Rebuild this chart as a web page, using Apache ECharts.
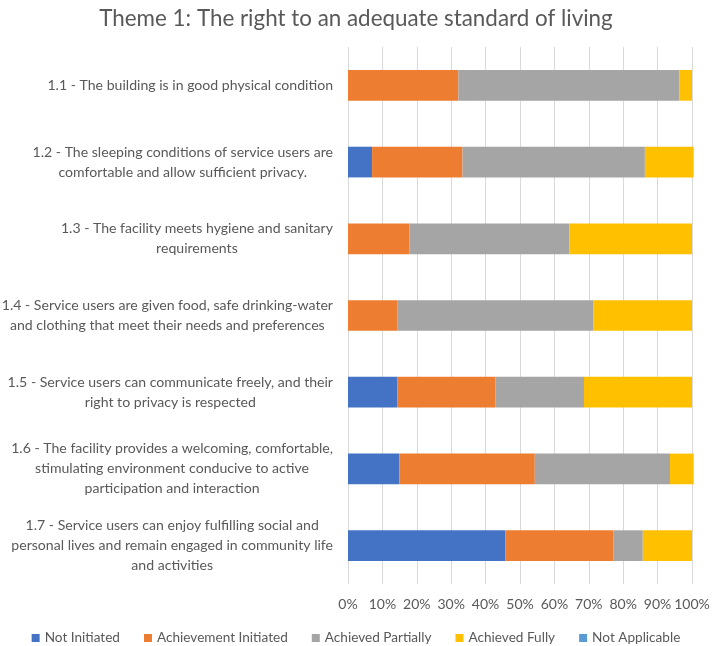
<!DOCTYPE html>
<html>
<head>
<meta charset="utf-8">
<title>Theme 1</title>
<script src="https://cdn.jsdelivr.net/npm/echarts@6/dist/echarts.min.js"></script>
<style>
  html, body { margin: 0; padding: 0; background: #fff; }
  #chart { width: 712px; height: 646px; }
</style>
</head>
<body>
<div id="chart"></div>
<script>
// categories, top to bottom (line breaks as in the source)
var categories = [
    '1.1 - The building is in good physical condition',
    '1.2 - The sleeping conditions of service users are\ncomfortable and allow sufficient privacy.',
    '1.3 - The facility meets hygiene and sanitary\nrequirements',
    '1.4 - Service users are given food, safe drinking-water\nand clothing that meet their needs and preferences',
    '1.5 - Service users can communicate freely, and their\nright to privacy is respected',
    '1.6 - The facility provides a welcoming, comfortable,\nstimulating environment conducive to active\nparticipation and interaction',
    '1.7 - Service users can enjoy fulfilling social and\npersonal lives and remain engaged in community life\nand activities'
];
var seriesNames = ['Not Initiated', 'Achievement Initiated', 'Achieved Partially', 'Achieved Fully', 'Not Applicable'];
var colors = ['#4472C4', '#ED7D31', '#A5A5A5', '#FFC000', '#5B9BD5'];

// percentages (same order as categories)
var notInitiated         = [0,    7.0,  0,    0,    14.3, 14.9, 45.7];
var achievementInitiated = [32.1, 26.3, 17.9, 14.3, 28.6, 39.4, 31.4];
var achievedPartially    = [64.3, 53.0, 46.4, 57.1, 25.7, 39.3, 8.6];
var achievedFully        = [3.6,  14.2, 35.7, 28.6, 31.4, 6.9,  14.3];
var notApplicable        = [0,    0,    0,    0,    0,    0,    0];

var xTicks = ['0%', '10%', '20%', '30%', '40%', '50%', '60%', '70%', '80%', '90%', '100%'];

var values = [notInitiated, achievementInitiated, achievedPartially, achievedFully, notApplicable];
var font = 'Lato, "Open Sans", sans-serif';

var series = [];
for (var i = 0; i < seriesNames.length; i++) {
    series.push({
        name: seriesNames[i],
        type: 'bar',
        stack: 'total',
        barCategoryGap: '60%',
        clip: false,
        itemStyle: { color: colors[i] },
        data: values[i]
    });
}

var e = echarts.init(document.getElementById('chart'));
var option = {
    animation: false,
    title: {
        text: 'Theme 1: The right to an adequate standard of living',
        left: 'center',
        top: 3,
        textStyle: { fontFamily: font, fontSize: 22.4, fontWeight: 'normal', color: '#595959' }
    },
    legend: {
        top: 626,
        left: 'center',
        itemWidth: 8,
        itemHeight: 8,
        itemGap: 24,
        icon: 'rect',
        data: seriesNames,
        textStyle: { fontFamily: font, fontSize: 13.6, color: '#595959' }
    },
    grid: { left: 348, right: 20, top: 47, bottom: 62, containLabel: false, outerBoundsMode: 'none' },
    xAxis: {
        type: 'value',
        min: 0,
        max: 100,
        interval: 10,
        axisLine: { show: false },
        axisTick: { show: false },
        splitLine: { show: true, lineStyle: { color: '#D9D9D9', width: 1 } },
        axisLabel: {
            margin: 13,
            fontFamily: font,
            fontSize: 14,
            color: '#595959',
            formatter: function (v) { return xTicks[Math.round(v / 10)]; }
        }
    },
    yAxis: {
        type: 'category',
        inverse: true,
        data: categories,
        axisLine: { show: false },
        axisTick: { show: false },
        axisLabel: {
            margin: 15,
            align: 'right',
            fontFamily: font,
            fontSize: 14.1,
            lineHeight: 20,
            color: '#595959',
            formatter: function (v) {
                return v.split('\n').map(function (s) { return '{c|' + s + '}'; }).join('\n');
            },
            rich: {
                c: { align: 'center', fontFamily: font, fontSize: 14.1, lineHeight: 20, color: '#595959' }
            }
        }
    },
    series: series
};
e.setOption(option);
</script>
</body>
</html>
